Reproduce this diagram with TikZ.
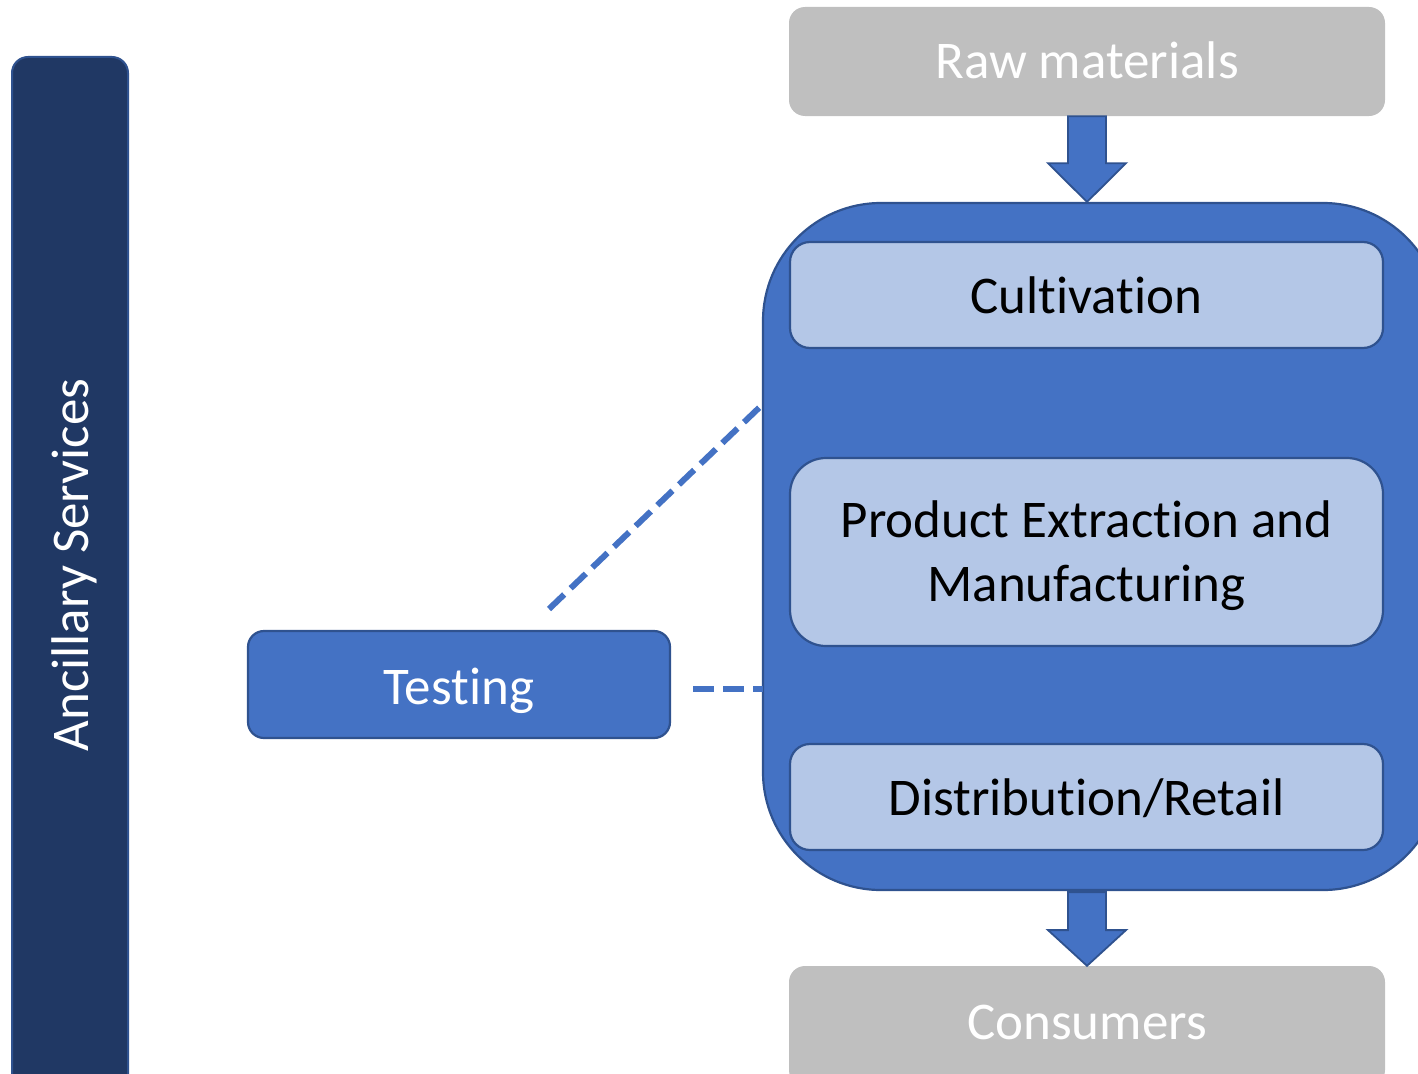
\documentclass[tikz,border=0pt]{standalone}
\usepackage{fontspec}
\setmainfont[Ligatures=NoCommon]{Carlito}
\usetikzlibrary{calc}
\definecolor{navy}{HTML}{203864}
\definecolor{navyedge}{HTML}{2F528F}
\definecolor{blue1}{HTML}{4472C4}
\definecolor{lightblue}{HTML}{B4C7E7}
\definecolor{gray1}{HTML}{BFBFBF}
\tikzset{
  base/.style={rectangle, rounded corners=#1, inner sep=0pt, font=\fontsize{53}{64}\selectfont},
  drop/.style={text height=#1, text depth=0pt},
  graybox/.style={base=16pt, fill=gray1, text=white, minimum width=596pt, minimum height=109pt},
  innerbox/.style={base=20pt, fill=lightblue, draw=navyedge, line width=2.2pt, text=black, minimum width=593pt},
  bluebox/.style={base=16pt, fill=blue1, draw=navyedge, line width=2.2pt, text=white},
  blockarrow/.style={fill=blue1, draw=navyedge, line width=1.8pt, line join=miter},
  dashlink/.style={draw=blue1, line width=6pt, dash pattern=on 21pt off 9pt}
}
\begin{document}
\begin{tikzpicture}[x=1pt,y=-1pt]
\useasboundingbox (0,0) rectangle (1418,1073);
% Ancillary bar
\node[base=16pt, fill=navy, draw=navyedge, line width=2pt, text=white, minimum width=116pt, minimum height=1060pt] (anc) at (70,587) {};
\node[rotate=90, text=white, font=\fontsize{53}{64}\selectfont, inner sep=0pt] (anctext) at (74,565) {Ancillary Services};
% Raw materials / Consumers
\node[graybox, drop=33pt] (raw) at (1087,61.5) {Raw materials};
\node[graybox, minimum height=120pt] (cons) at (1087,1026) {};
\node[text=white, font=\fontsize{53}{64}\selectfont, inner sep=0pt, anchor=base] (constext) at (1087,1039) {Consumers};
% Big box
\node[base=118pt, fill=blue1, draw=navyedge, line width=2.2pt, minimum width=678pt, minimum height=687pt] (big) at (1102,546.5) {};
% Inner boxes
\node[innerbox, drop=37pt, minimum height=106pt] (cult) at (1086.5,295) {Cultivation};
\node[innerbox, base=36pt, align=center, minimum height=188pt] (prod) at (1086.5,552) {\begin{tabular}{@{}c@{}}\rule{0pt}{54pt}Product Extraction and\\Manufacturing\end{tabular}};
\node[innerbox, drop=37pt, minimum height=106pt] (dist) at (1086.5,797) {Distribution/Retail};
% Testing
\node[bluebox, drop=39pt, minimum width=422pt, minimum height=107pt] (test) at (459,684.5) {Testing};
% Block arrows
\draw[blockarrow] ($(raw.south)+(-19,0)$) -- ($(raw.south)+(19,0)$) -- ($(raw.south)+(19,47)$) -- ($(raw.south)+(39,47)$)
  -- (big.north -| raw.south) -- ($(raw.south)+(-39,47)$) -- ($(raw.south)+(-19,47)$) -- cycle;
\draw[blockarrow] ($(big.south -| raw.south)+(-19,1)$) -- ($(big.south -| raw.south)+(19,1)$) -- ($(big.south -| raw.south)+(19,39)$) -- ($(big.south -| raw.south)+(39,39)$)
  -- (cons.north) -- ($(big.south -| raw.south)+(-39,39)$) -- ($(big.south -| raw.south)+(-19,39)$) -- cycle;
% Dashed links
\coordinate (d1) at (549,609);
\coordinate (b1) at (763,404);
\draw[dashlink] (d1) -- (b1);
\coordinate (b2) at (763,689);
\draw[dashlink] ($(test.east)+(22,4.5)$) -- (b2);
\end{tikzpicture}
\end{document}
